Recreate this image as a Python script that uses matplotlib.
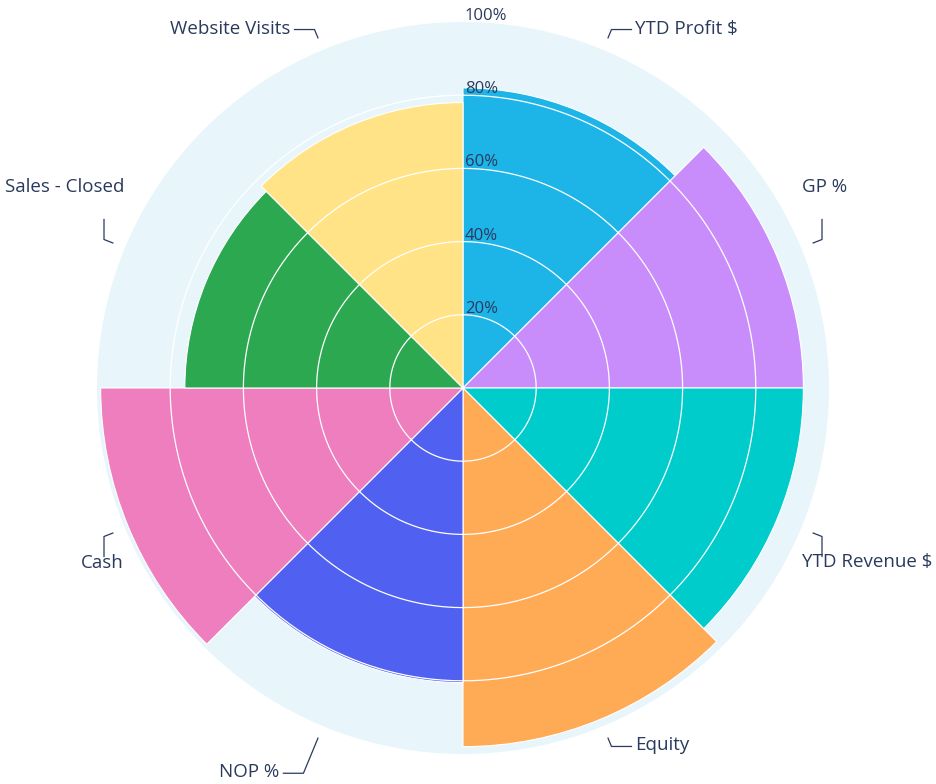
import numpy as np
import matplotlib.pyplot as plt

categories = ["YTD Profit $", "GP %", "YTD Revenue $", "Equity",
              "NOP %", "Cash", "Sales - Closed", "Website Visits"]
values = [82, 93, 93, 98, 80.5, 99, 76, 78]
colors = ["#1DB5E8", "#C98DFB", "#00CCCC", "#FFAA55",
          "#5060F0", "#EE7EBE", "#2CA851", "#FFE386"]
ring_ticks = [20, 40, 60, 80, 100]
ring_labels = ["20%", "40%", "60%", "80%", "100%"]

text_color = "#2A3A5C"
plt.rcParams['font.family'] = ['Open Sans', 'DejaVu Sans']

W, H = 937, 784
cx, cy, R = 463, 388, 366
fig = plt.figure(figsize=(W / 100, H / 100), dpi=100)
pos = [(cx - R) / W, (H - cy - R) / H, 2 * R / W, 2 * R / H]

ax = fig.add_axes(pos, projection="polar")
ax.set_theta_zero_location("N")
ax.set_theta_direction(-1)
ax.set_facecolor("#E8F6FC")
ax.spines["polar"].set_visible(False)

n = len(categories)
step = 2 * np.pi / n
theta = np.arange(n) * step + step / 2
ax.bar(theta, values, width=step, color=colors, edgecolor="white",
       linewidth=0.8, zorder=2)
ax.set_ylim(0, 100)

# ring grid drawn over the bars
circ = np.linspace(0, 2 * np.pi, 400)
for r in ring_ticks[:-1]:
    ax.plot(circ, np.full_like(circ, r), color="white", lw=0.9, zorder=3)
ax.set_xticks([])
ax.set_yticks([])
ax.grid(False)

# overlay axes for labels and leader lines (cartesian, units = %)
ov = fig.add_axes(pos)
ov.set_xlim(-100, 100)
ov.set_ylim(-100, 100)
ov.axis("off")

px = 100 / R  # one pixel in % units
for r, lab in zip(ring_ticks, ring_labels):
    ov.text(2 * px, r - 2 * px, lab, fontsize=12, color=text_color,
            ha="left", va="bottom", zorder=5)

for i, lab in enumerate(categories):
    a = np.pi / 2 - theta[i]
    ca, sa = np.cos(a), np.sin(a)
    sx, sy = np.sign(ca), np.sign(sa)
    x0, y0 = 379 * px * ca, 379 * px * sa
    ha = "left" if sx > 0 else "right"
    if abs(ca) > abs(sa):
        # near horizontal: short radial tick, then vertical segment
        x1, y1 = 359 * px * sx, 148.5 * px * sy
        x2, y2 = x1, y1 + 20 * px * sy
        tx = x2 - 20 * px * sx
        ty = y2 + (32 if sy > 0 else -6) * px
    else:
        # near vertical: radial segment, then horizontal segment
        r1 = (417 if lab == "NOP %" else 388) * px
        x1, y1 = r1 * ca, r1 * sa
        x2, y2 = x1 + 20 * px * sx, y1
        tx, ty = x2 + 4 * px * sx, y2 + 1 * px
    ov.plot([x0, x1, x2], [y0, y1, y2], color=text_color, lw=0.9,
            clip_on=False)
    ov.text(tx, ty, lab, fontsize=13.5, color=text_color, ha=ha,
            va="center", clip_on=False)

fig.savefig("out.png", dpi=100, facecolor="white")
